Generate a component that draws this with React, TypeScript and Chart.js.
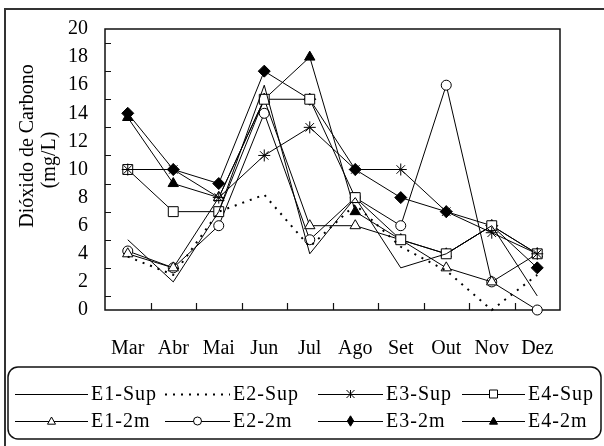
import React, { useEffect, useRef } from "react";
import { Chart, registerables } from "chart.js";

Chart.register(...registerables);

const months = ["Mar", "Abr", "Mai", "Jun", "Jul", "Ago", "Set", "Out", "Nov", "Dez"];
const yTicks = [0, 2, 4, 6, 8, 10, 12, 14, 16, 18, 20];
const seriesNames = ["E1-Sup", "E2-Sup", "E3-Sup", "E4-Sup", "E1-2m", "E2-2m", "E3-2m", "E4-2m"];

const e1Sup = [5, 2, 7, 16, 4, 8, 3, 4, 6, 1];
const e2Sup = [3.8, 2.5, 7, 8.2, 4.5, 7.5, 4.5, 2.8, 0, 2.5];
const e3Sup = [10, 10, 8, 11, 13, 10, 10, 7, 5.5, 4];
const e4Sup = [10, 7, 7, 15, 15, 8, 5, 4, 6, 4];
const e1m2 = [4, 3, 8, 15, 6, 6, 5, 3, 2, 4];
const e2m2 = [4.2, 3, 6, 14, 5, 8, 6, 16, 2, 0];
const e3m2 = [14, 10, 9, 17, 15, 10, 8, 7, 6, 3];
const e4m2 = [13.7, 9, 8, 15, 18, 7, 5, 4, 6, 4];

const FONT = "'Liberation Serif', 'Times New Roman', serif";

type Style = { point: string | false; fill: string; radius: number; dash: number[]; width: number };
const styles: Style[] = [
  { point: false, fill: "#000", radius: 0, dash: [], width: 1 },
  { point: false, fill: "#000", radius: 0, dash: [2, 6], width: 2 },
  { point: "star", fill: "#fff", radius: 6, dash: [], width: 1 },
  { point: "rect", fill: "#fff", radius: 7, dash: [], width: 1 },
  { point: "triangle", fill: "#fff", radius: 6, dash: [], width: 1 },
  { point: "circle", fill: "#fff", radius: 5, dash: [], width: 1 },
  { point: "rectRot", fill: "#000", radius: 6, dash: [], width: 1 },
  { point: "triangle", fill: "#000", radius: 6, dash: [], width: 1 },
];

const seriesData = [e1Sup, e2Sup, e3Sup, e4Sup, e1m2, e2m2, e3m2, e4m2];

function drawMarker(ctx: CanvasRenderingContext2D, style: string | false, fill: string, x: number, y: number, r: number) {
  if (!style) return;
  ctx.save();
  ctx.lineWidth = 1;
  ctx.strokeStyle = "#000";
  ctx.fillStyle = fill;
  ctx.beginPath();
  if (style === "rect") {
    ctx.rect(x - r, y - r, 2 * r, 2 * r);
  } else if (style === "circle") {
    ctx.arc(x, y, r, 0, Math.PI * 2);
  } else if (style === "triangle") {
    ctx.moveTo(x, y - r);
    ctx.lineTo(x + r, y + r * 0.8);
    ctx.lineTo(x - r, y + r * 0.8);
    ctx.closePath();
  } else if (style === "rectRot") {
    ctx.moveTo(x, y - r * 1.3);
    ctx.lineTo(x + r * 0.8, y);
    ctx.lineTo(x, y + r * 1.3);
    ctx.lineTo(x - r * 0.8, y);
    ctx.closePath();
  } else if (style === "star") {
    ctx.moveTo(x - r, y - r); ctx.lineTo(x + r, y + r);
    ctx.moveTo(x + r, y - r); ctx.lineTo(x - r, y + r);
    ctx.moveTo(x, y - r); ctx.lineTo(x, y + r);
    ctx.stroke();
    ctx.restore();
    return;
  }
  ctx.fill();
  ctx.stroke();
  ctx.restore();
}

const decorPlugin = {
  id: "decor",
  beforeDatasetsDraw(chart: any) {
    const { ctx, chartArea: a, scales } = chart;
    const xs = scales.x;
    const ys = scales.y;
    ctx.save();
    ctx.strokeStyle = "#111";
    ctx.lineWidth = 1.5;
    ctx.strokeRect(a.left, a.top, a.right - a.left, a.bottom - a.top);
    ctx.lineWidth = 1.2;
    ctx.beginPath();
    for (let i = 0; i < months.length - 1; i++) {
      const x = Math.round((xs.getPixelForValue(i) + xs.getPixelForValue(i + 1)) / 2) + 0.5;
      ctx.moveTo(x, a.bottom);
      ctx.lineTo(x, a.bottom - 7);
    }
    for (let v = 1; v < 20; v += 2) {
      const y = Math.round(ys.getPixelForValue(v)) + 0.5;
      ctx.moveTo(a.left, y);
      ctx.lineTo(a.left + 6, y);
    }
    ctx.stroke();
    ctx.restore();
  },
  afterDraw(chart: any) {
    const { ctx } = chart;
    ctx.save();
    // outer frame
    ctx.strokeStyle = "#333";
    ctx.lineWidth = 2;
    ctx.beginPath();
    ctx.moveTo(5, 446);
    ctx.lineTo(5, 9);
    ctx.lineTo(604, 9);
    ctx.stroke();

    // y title
    ctx.fillStyle = "#000";
    ctx.font = "20px " + FONT;
    ctx.textAlign = "center";
    ctx.textBaseline = "middle";
    ctx.save();
    ctx.translate(28, 146);
    ctx.rotate(-Math.PI / 2);
    ctx.fillText("Dióxido de Carbono", 0, 0);
    ctx.restore();
    ctx.save();
    ctx.translate(50, 160);
    ctx.rotate(-Math.PI / 2);
    ctx.fillText("(mg/L)", 0, 0);
    ctx.restore();

    // legend box
    ctx.strokeStyle = "#111";
    ctx.lineWidth = 1.5;
    ctx.beginPath();
    (ctx as any).roundRect(8, 367, 593, 72, 10);
    ctx.stroke();

    const cols = [
      [15, 88, 91],
      [165, 230, 233],
      [318, 383, 386],
      [462, 525, 528],
    ];
    const rows = [394, 421];
    ctx.textAlign = "left";
    (ctx as any).letterSpacing = "1px";
    for (let i = 0; i < seriesNames.length; i++) {
      const c = cols[i % 4];
      const y = rows[Math.floor(i / 4)];
      const s = styles[i];
      ctx.save();
      ctx.strokeStyle = "#000";
      ctx.lineWidth = s.width;
      ctx.setLineDash(s.dash);
      ctx.beginPath();
      ctx.moveTo(c[0], y + 0.5);
      ctx.lineTo(c[1], y + 0.5);
      ctx.stroke();
      ctx.restore();
      drawMarker(ctx, s.point, s.fill, (c[0] + c[1]) / 2, y, 4);
      ctx.fillStyle = "#000";
      ctx.fillText(seriesNames[i], c[2], y + 1);
    }
    (ctx as any).letterSpacing = "0px";
    ctx.restore();
  },
};

export default function App() {
  const ref = useRef<HTMLCanvasElement | null>(null);
  useEffect(() => {
    if (!ref.current) return;
    const chart = new Chart(ref.current, {
      type: "line",
      data: {
        labels: months,
        datasets: seriesData.map((d, i) => ({
          label: seriesNames[i],
          data: d,
          borderColor: "#000",
          borderWidth: styles[i].width,
          borderDash: styles[i].dash,
          pointStyle: styles[i].point === false ? "circle" : (styles[i].point as any),
          pointRadius: styles[i].radius,
          pointBackgroundColor: styles[i].fill,
          pointBorderColor: "#000",
          pointBorderWidth: 1,
          fill: false,
          tension: 0,
          clip: false as any,
        })),
      },
      options: {
        responsive: false,
        animation: false,
        events: [],
        layout: { padding: { top: 24, right: 44, left: 0, bottom: 0 } },
        plugins: { legend: { display: false }, tooltip: { enabled: false }, title: { display: false } },
        scales: {
          x: {
            type: "category",
            offset: true,
            grid: { display: false, drawTicks: false },
            border: { display: false },
            ticks: { color: "#000", font: { family: FONT, size: 20 }, padding: 27, maxRotation: 0, autoSkip: false },
            afterFit: (s: any) => { s.height = 136; },
          },
          y: {
            min: 0,
            max: 20,
            afterBuildTicks: (s: any) => { s.ticks = yTicks.map((v) => ({ value: v })); },
            grid: { display: false, drawTicks: false },
            border: { display: false },
            ticks: { color: "#000", font: { family: FONT, size: 20 }, padding: 17 },
            afterFit: (s: any) => { s.width = 105; },
          },
        },
      },
      plugins: [decorPlugin],
    });
    return () => chart.destroy();
  }, []);
  return (
    <div style={{ position: "absolute", left: 0, top: 0, width: 604, height: 446, background: "#fff" }}>
      <canvas ref={ref} width={604} height={446} style={{ width: 604, height: 446, display: "block" }} />
    </div>
  );
}
